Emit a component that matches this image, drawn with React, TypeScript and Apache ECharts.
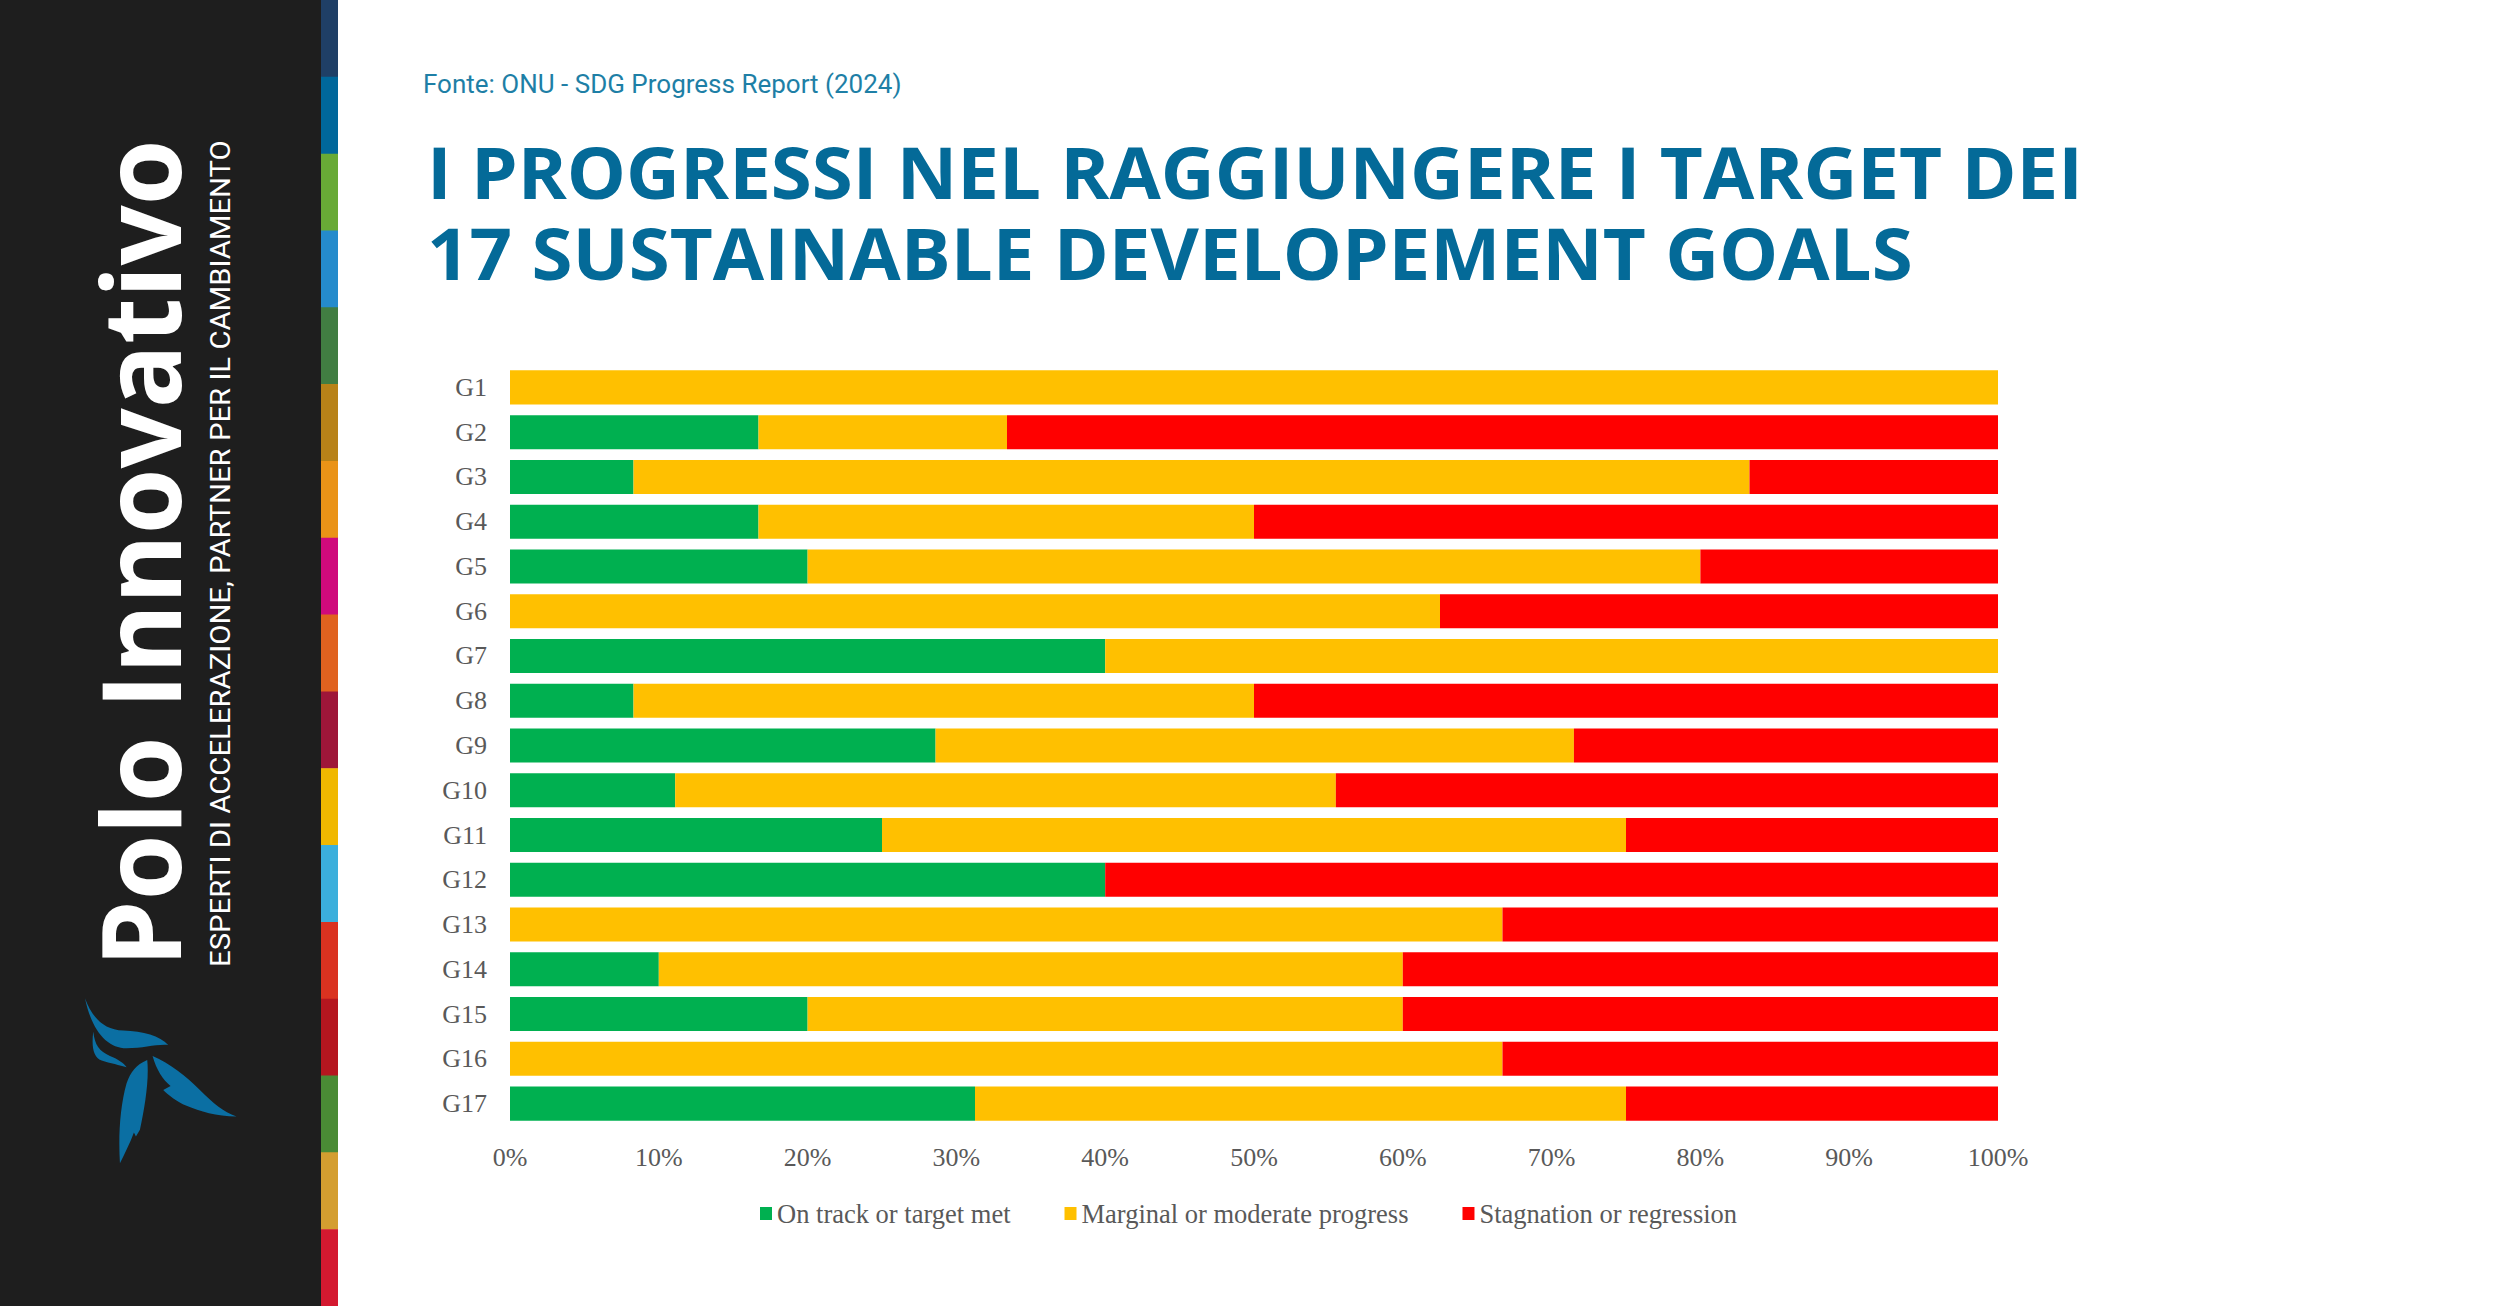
import React, { useEffect, useRef } from "react";
import * as echarts from "echarts";

// ---------- DATA ----------
const categories = ["G1", "G2", "G3", "G4", "G5", "G6", "G7", "G8", "G9", "G10", "G11", "G12", "G13", "G14", "G15", "G16", "G17"];
const seriesNames = ["On track or target met", "Marginal or moderate progress", "Stagnation or regression"];
const onTrack = [0, 16.7, 8.3, 16.7, 20, 0, 40, 8.3, 28.6, 11.1, 25, 40, 0, 10, 20, 0, 31.25];
const marginal = [100, 16.7, 75, 33.3, 60, 62.5, 60, 41.7, 42.9, 44.4, 50, 0, 66.7, 50, 40, 66.7, 43.75];
const stagnation = [0, 66.6, 16.7, 50, 20, 37.5, 0, 50, 28.5, 44.5, 25, 60, 33.3, 40, 40, 33.3, 25];
const xTickStep = 10;

const sourceText = "Fonte: ONU - SDG Progress Report (2024)";
const titleLines = ["I PROGRESSI NEL RAGGIUNGERE I TARGET DEI", "17 SUSTAINABLE DEVELOPEMENT GOALS"];
const brandText = "Polo Innovativo";
const brandSub = "ESPERTI DI ACCELERAZIONE, PARTNER PER IL CAMBIAMENTO";

// ---------- STYLE ----------
const seriesColors = ["#00b050", "#ffc000", "#ff0000"];
const stripeColors = [
  "#1f3f66", "#00679b", "#68aa36", "#258bcc", "#417d42", "#b88218", "#ea9317", "#cf0a7c", "#e0621f",
  "#9e1639", "#f0b800", "#3bafdc", "#da3220", "#b5161f", "#4a8b35", "#d49e30", "#d41930",
];

const logoPath =
  "M75,55 C95,110 130,150 190,152 C250,154 300,168 325,195 C290,192 250,205 200,205 C140,205 95,150 75,55 Z " +
  "M100,155 C104,195 118,215 150,228 C175,238 192,250 200,262 C180,256 150,250 125,242 C100,232 94,200 100,155 Z " +
  "M262,240 C268,300 255,380 240,450 L228,470 L222,458 C210,490 195,520 180,550 C175,470 180,380 200,310 C212,275 228,255 262,240 Z " +
  "M278,228 C330,250 380,290 420,330 C460,370 490,395 530,410 C470,410 420,395 380,378 C350,365 325,345 310,330 L332,318 C308,298 290,270 278,228 Z";

echarts.graphic.registerShape("logo", echarts.graphic.extendPath(logoPath, {}));

function measure(text: string, font: string): number {
  const ctx = document.createElement("canvas").getContext("2d");
  if (!ctx) return text.length * 10;
  ctx.font = font;
  return ctx.measureText(text).width;
}

export default function App() {
  const ref = useRef<HTMLDivElement>(null);

  useEffect(() => {
    if (!ref.current) return;
    const chart = echarts.init(ref.current, undefined, { renderer: "svg" });

    const serif = '"Liberation Serif", "Times New Roman", serif';
    const axisGrey = "#595959";

    const titleSize = 72;
    const titleW = measure(titleLines[0], `700 ${titleSize}px "Open Sans"`);
    const titleScale = 1656 / titleW;

    const brandSize = 109;
    const brandW = measure(brandText, `700 ${brandSize}px "Open Sans"`);
    const brandScale = 828 / brandW;

    const subSize = 28;
    const subW = measure(brandSub, `400 ${subSize}px Roboto`);
    const subScale = 827 / subW;

    const stripeH = 1306 / stripeColors.length;

    const graphics: any[] = [
      { type: "rect", shape: { x: 0, y: 0, width: 321, height: 1306 }, style: { fill: "#1e1e1e" }, silent: true },
      ...stripeColors.map((c, i) => ({
        type: "rect",
        shape: { x: 321, y: i * stripeH, width: 17, height: stripeH + 0.6 },
        style: { fill: c },
        silent: true,
      })),
      { type: "logo", x: 60, y: 980, scaleX: 1 / 3, scaleY: 1 / 3, style: { fill: "#0b6fa3" }, silent: true },
      {
        type: "text",
        x: 139,
        y: 967,
        rotation: Math.PI / 2,
        scaleX: brandScale,
        style: {
          text: brandText,
          fill: "#ffffff",
          font: `700 ${brandSize}px "Open Sans"`,
          align: "left",
          verticalAlign: "middle",
        },
      },
      {
        type: "text",
        x: 220,
        y: 967,
        rotation: Math.PI / 2,
        scaleX: subScale,
        style: {
          text: brandSub,
          fill: "#ffffff",
          font: `400 ${subSize}px Roboto`,
          align: "left",
          verticalAlign: "middle",
        },
      },
      {
        type: "text",
        x: 423,
        y: 84,
        style: {
          text: sourceText,
          fill: "#1e7fa6",
          font: `400 26px Roboto`,
          align: "left",
          verticalAlign: "middle",
        },
      },
      ...titleLines.map((t, i) => ({
        type: "text",
        x: 427,
        y: 171 + i * 81,
        scaleX: titleScale,
        style: {
          text: t,
          fill: "#046a98",
          font: `700 ${titleSize}px "Open Sans"`,
          align: "left",
          verticalAlign: "middle",
        },
      })),
    ];

    const dataSets = [onTrack, marginal, stagnation];

    chart.setOption({
      animation: false,
      backgroundColor: "#ffffff",
      grid: { left: 510, top: 365, width: 1488, height: 761, containLabel: false },
      legend: {
        data: seriesNames,
        left: 755,
        top: 1195,
        itemWidth: 12,
        itemHeight: 13,
        itemGap: 54,
        icon: "rect",
        textStyle: { color: axisGrey, fontFamily: serif, fontSize: 26.5 },
      },
      xAxis: {
        type: "value",
        min: 0,
        max: 100,
        interval: xTickStep,
        axisLabel: { formatter: "{value}%", color: axisGrey, fontFamily: serif, fontSize: 26, margin: 18 },
        axisLine: { show: false },
        axisTick: { show: false },
        splitLine: { show: false },
      },
      yAxis: {
        type: "category",
        data: categories,
        inverse: true,
        axisLabel: { color: axisGrey, fontFamily: serif, fontSize: 26, margin: 23 },
        axisLine: { show: false },
        axisTick: { show: false },
        splitLine: { show: false },
      },
      series: seriesNames.map((name, i) => ({
        name,
        type: "bar",
        stack: "total",
        barWidth: "76%",
        data: dataSets[i],
        itemStyle: { color: seriesColors[i] },
      })),
      graphic: graphics,
    });

    return () => chart.dispose();
  }, []);

  return (
    <div
      ref={ref}
      style={{ position: "absolute", left: 0, top: 0, width: 2500, height: 1306, background: "#ffffff" }}
    />
  );
}
